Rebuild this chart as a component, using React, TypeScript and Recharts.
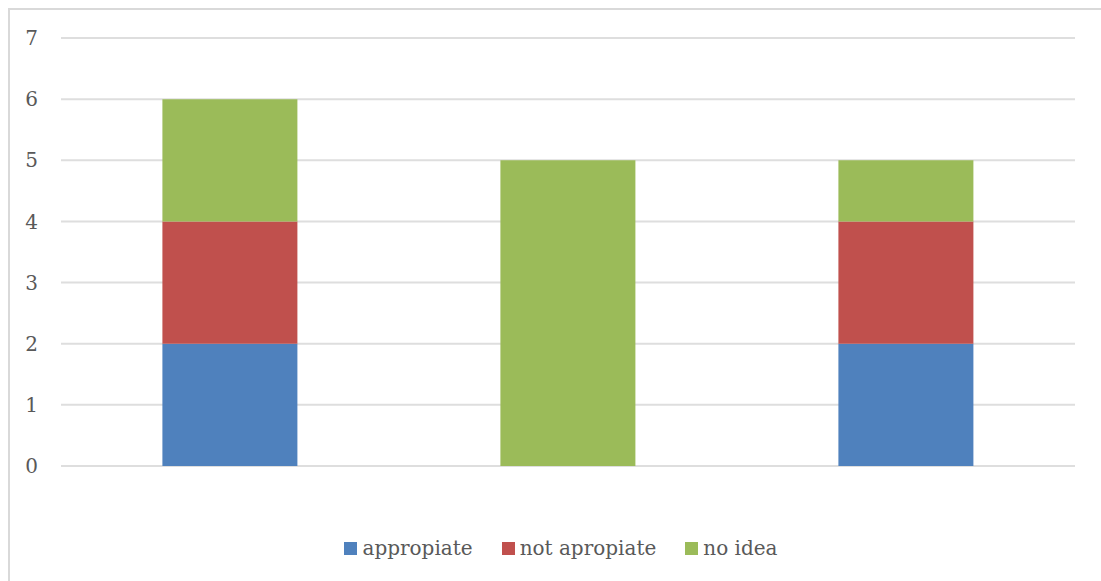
import { BarChart, Bar, XAxis, YAxis, CartesianGrid, Legend } from 'recharts';

const groups = ['group 1', 'group 2', 'group 3'];
const appropiate = [2, 0, 2];
const notApropiate = [2, 0, 2];
const noIdea = [2, 5, 1];
const yTicks = [0, 1, 2, 3, 4, 5, 6, 7];

const data = groups.map((g, i) => ({
  group: g,
  appropiate: appropiate[i],
  notApropiate: notApropiate[i],
  noIdea: noIdea[i],
}));

const series = [
  { key: 'appropiate', label: 'appropiate', color: '#4f81bd' },
  { key: 'notApropiate', label: 'not apropiate', color: '#c0504d' },
  { key: 'noIdea', label: 'no idea', color: '#9bbb59' },
];

const font = '"DejaVu Serif", serif';
const textColor = '#595959';

function LegendRow() {
  return (
    <div
      style={{
        display: 'flex',
        justifyContent: 'center',
        alignItems: 'center',
        paddingLeft: 11,
        fontFamily: font,
        fontSize: 20,
        lineHeight: '24px',
        color: textColor,
      }}
    >
      {series.map((s, i) => (
        <div key={s.key} style={{ display: 'flex', alignItems: 'center', marginLeft: i === 0 ? 0 : 29 }}>
          <span style={{ width: 13, height: 13, background: s.color, marginRight: 5, display: 'inline-block' }} />
          <span>{s.label}</span>
        </div>
      ))}
    </div>
  );
}

export default function App() {
  return (
    <div
      style={{
        position: 'fixed',
        top: 8,
        left: 8,
        width: 1093,
        height: 573,
        boxSizing: 'border-box',
        borderTop: '2px solid #d9d9d9',
        borderLeft: '2px solid #d9d9d9',
        background: '#fff',
        overflow: 'hidden',
      }}
    >
      <BarChart
        width={1091}
        height={571}
        data={data}
        margin={{ top: 28, right: 26, bottom: 115, left: 0 }}
        barCategoryGap="30%"
      >
        <CartesianGrid vertical={false} stroke="#dedede" strokeWidth={2} />
        <XAxis dataKey="group" hide />
        <YAxis
          width={51}
          domain={[0, 7]}
          ticks={yTicks}
          axisLine={false}
          tickLine={false}
          tickMargin={17}
          tick={{ fill: textColor, fontSize: 20, fontFamily: font }}
          interval={0}
        />
        <Legend
          layout="horizontal"
          verticalAlign="middle"
          wrapperStyle={{ top: 526, left: 0, width: 1091 }}
          content={() => <LegendRow />}
        />
        {series.map((s) => (
          <Bar key={s.key} dataKey={s.key} name={s.label} stackId="a" fill={s.color} isAnimationActive={false} />
        ))}
      </BarChart>
    </div>
  );
}
